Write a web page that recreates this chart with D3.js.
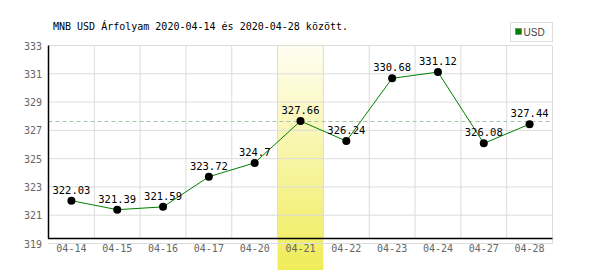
<!DOCTYPE html>
<html>
<head>
<meta charset="utf-8">
<script src="https://cdn.jsdelivr.net/npm/d3@7"></script>
<style>
  body { margin: 0; background: #fff; }
  svg { display: block; }
  text { font-family: "DejaVu Sans Mono", "Liberation Mono", monospace; font-size: 10px; }
</style>
</head>
<body>
<svg id="chart" width="600" height="270"></svg>
<script>
// data
var dates = ['04-14', '04-15', '04-16', '04-17', '04-20', '04-21', '04-22', '04-23', '04-24', '04-27', '04-28'];
var rates = [322.03, 321.39, 321.59, 323.72, 324.7, 327.66, 326.24, 330.68, 331.12, 326.08, 327.44];
var yTicks = [319, 321, 323, 325, 327, 329, 331, 333];
var highlightDate = '04-21';
var title = 'MNB USD Árfolyam 2020-04-14 és 2020-04-28 között.';
var seriesName = 'USD';

var svg = d3.select('#chart');

var xScale = d3.scaleBand().domain(dates).range([48.5, 552.5]).padding(0);
var yScale = d3.scaleLinear().domain([319, 333]).range([243.5, 45.5]);

// highlight band gradient
var defs = svg.append('defs');
var grad = defs.append('linearGradient').attr('id', 'hl').attr('x1', 0).attr('y1', 0).attr('x2', 0).attr('y2', 1);
grad.append('stop').attr('offset', '0%').attr('stop-color', '#fffef4');
grad.append('stop').attr('offset', '100%').attr('stop-color', '#f0ec58');

svg.append('rect')
    .attr('x', xScale(highlightDate))
    .attr('y', 42)
    .attr('width', xScale.bandwidth())
    .attr('height', 270 - 42)
    .attr('fill', 'url(#hl)');

// horizontal grid
svg.append('g').selectAll('line')
    .data(yTicks).enter().append('line')
    .attr('x1', 48.5).attr('x2', 552.5)
    .attr('y1', d => yScale(d)).attr('y2', d => yScale(d))
    .style('stroke', '#dcdcdc').style('stroke-width', 1);

// vertical grid at band edges
var edges = dates.slice(1).map(d => xScale(d)).concat([xScale.range()[1]]);
svg.append('g').selectAll('line')
    .data(edges).enter().append('line')
    .attr('x1', d => d).attr('x2', d => d)
    .attr('y1', 45.5).attr('y2', (d, i) => i == edges.length - 1 ? 243.5 : 238.5)
    .style('stroke', '#dcdcdc').style('stroke-width', 1);

// reference line at highlighted value
var hlValue = rates[dates.indexOf(highlightDate)];
svg.append('line')
    .attr('x1', 48.5).attr('x2', 552.5)
    .attr('y1', Math.round(yScale(hlValue)) + 0.5).attr('y2', Math.round(yScale(hlValue)) + 0.5)
    .style('stroke', '#a8c4a8').style('stroke-width', 1).style('stroke-dasharray', '4,3');

// axes lines
svg.append('line').attr('x1', 48.5).attr('x2', 48.5).attr('y1', 45.5).attr('y2', 238.5)
    .style('stroke', '#000').style('stroke-width', 1.5);
svg.append('line').attr('x1', 48).attr('x2', 552.5).attr('y1', 238.5).attr('y2', 238.5)
    .style('stroke', '#000').style('stroke-width', 1.5);

// y tick labels
svg.append('g').selectAll('text')
    .data(yTicks).enter().append('text')
    .attr('x', 42).attr('y', d => yScale(d) + 4)
    .attr('text-anchor', 'end')
    .style('fill', '#666')
    .text(d => d);

// x tick labels
svg.append('g').selectAll('text')
    .data(dates).enter().append('text')
    .attr('x', d => xScale(d) + xScale.bandwidth() / 2)
    .attr('y', 252)
    .attr('text-anchor', 'middle')
    .style('fill', '#666')
    .text(d => d);

// series line
var pts = dates.map((d, i) => [xScale(d) + xScale.bandwidth() / 2, yScale(rates[i])]);
svg.append('path')
    .attr('d', d3.line()(pts))
    .style('stroke', '#008000').style('stroke-width', 1).style('fill', 'none');

svg.append('g').selectAll('circle')
    .data(pts).enter().append('circle')
    .attr('cx', d => d[0]).attr('cy', d => d[1]).attr('r', 4)
    .style('fill', '#000');

svg.append('g').selectAll('text')
    .data(pts).enter().append('text')
    .attr('x', d => d[0]).attr('y', d => d[1] - 7)
    .attr('text-anchor', 'middle')
    .style('fill', '#000')
    .style('font-size', '10.5px')
    .text((d, i) => rates[i]);

// title
svg.append('text')
    .attr('x', 53).attr('y', 30)
    .style('fill', '#000')
    .text(title);

// legend
svg.append('rect').attr('x', 510.5).attr('y', 22.5).attr('width', 42).attr('height', 19)
    .style('fill', '#fff').style('stroke', '#ddd');
svg.append('rect').attr('x', 515.5).attr('y', 28.5).attr('width', 6).attr('height', 6)
    .style('fill', '#008000').style('stroke', '#666').style('stroke-width', 0.5);
svg.append('text').attr('x', 523.5).attr('y', 35.5)
    .style('font-family', '"Liberation Sans", Arial, sans-serif')
    .style('font-size', '10px')
    .style('fill', '#444')
    .text(seriesName);
</script>
</body>
</html>
